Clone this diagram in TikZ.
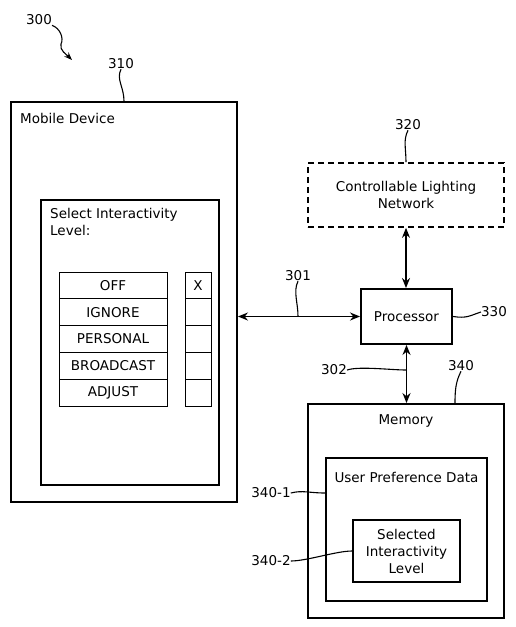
\documentclass[tikz,border=0pt]{standalone}
\usepackage{fontspec}
\setmainfont{DejaVu Sans}
\usetikzlibrary{arrows.meta}
\begin{document}
\begin{tikzpicture}
[
x=1pt, y=-1pt,
every node/.style={font=\fontsize{13.5}{17}\selectfont, inner sep=0pt},
Frame/.style={rectangle, draw=black, line width=1.9pt, align=center},
Dashframe/.style={rectangle, draw=black, line width=1.7pt, dash pattern=on 6pt off 4pt, align=center},
Option/.style={rectangle, draw=black, line width=0.9pt, minimum width=108pt, minimum height=26.8pt},
Check/.style={rectangle, draw=black, line width=0.9pt, minimum width=26pt, minimum height=26.8pt},
Link/.style={{Stealth[length=10pt,width=8pt]}-{Stealth[length=10pt,width=8pt]}, line width=1.5pt},
Lead/.style={line width=1.1pt},
Tip/.style={-{Stealth[length=8pt,width=6pt]}}
]

\useasboundingbox (0,0) rectangle (516,627);

\node[Frame, minimum width=226pt, minimum height=400pt] (Mobile) at (124,302) {};
\node[anchor=west] (MobileText) at (20,118) {Mobile Device};
\node[Frame, minimum width=178pt, minimum height=285pt] (Select) at (130,342.5) {};
\node[anchor=north west, align=left] (SelectText) at (50,208) {Select Interactivity\\Level:};

\foreach \lab [count=\i] in {OFF,IGNORE,PERSONAL,BROADCAST,ADJUST}
{
\node[Option] (Opt\i) at (113,258.6+26.8*\i) {\lab};
\node[Check] (Chk\i) at (198,258.6+26.8*\i) {};
}
\node (Mark) at (Chk1) {X};

\node[Dashframe, minimum width=196pt, minimum height=64pt] (Lighting) at (406,195) {Controllable Lighting\\Network};
\node[Frame, minimum width=91pt, minimum height=55pt] (Processor) at (406.5,316.5) {Processor};
\node[Frame, minimum width=196pt, minimum height=214pt] (Memory) at (406,511) {};
\node (MemoryText) at (406,421) {Memory};
\node[Frame, minimum width=161pt, minimum height=143pt] (Pref) at (406.5,529.5) {};
\node (PrefText) at (406.5,477) {User Preference Data};
\node[Frame, line width=1.6pt, minimum width=107pt, minimum height=62pt] (Level) at (406.5,551) {Selected\\Interactivity\\Level};

\draw[Link] (Mobile.east |- Processor) -- (Processor.west);
\draw[Link] (Lighting.south) -- (Lighting.south |- Processor.north);
\draw[Link] (Processor.south) -- (Processor.south |- Memory.north);

\node (N300) at (39,20) {300};
\node (N310) at (121,64) {310};
\node (N320) at (408,125) {320};
\node (N301) at (298,276) {301};
\node (N330) at (494,312) {330};
\node (N302) at (334,370) {302};
\node (N340) at (461,366) {340};
\node (N3401) at (271,493) {340-1};
\node (N3402) at (271,561) {340-2};

\draw[Lead, Tip] (N300.south east) .. controls +(8,3) and +(3,-6) .. (61,44) .. controls +(-2,6) and +(-5,-5) .. (72,60);
\draw[Lead] (N310.south) .. controls +(-5,10) and +(0,-14) .. (Mobile.north);
\draw[Lead] (N320.south) .. controls +(-5,10) and +(0,-14) .. (Lighting.north);
\draw[Lead] (N301.south) .. controls +(-5,10) and +(0,-14) .. (N301.south |- Processor);
\draw[Lead] (Processor.east) .. controls +(14,2) and +(-12,4) .. (N330.west);
\draw[Lead] (N302.east) .. controls +(12,-4) and +(-16,0) .. (Processor.south |- N302);
\draw[Lead] (N340.south) .. controls +(-5,10) and +(0,-14) .. ([xshift=49pt]Memory.north);
\draw[Lead] (N3401.east) .. controls +(12,-3) and +(-16,0) .. (Pref.west |- N3401);
\draw[Lead] (N3402.east) .. controls +(16,0) and +(-16,0) .. (Level.west);
\end{tikzpicture}
\end{document}
